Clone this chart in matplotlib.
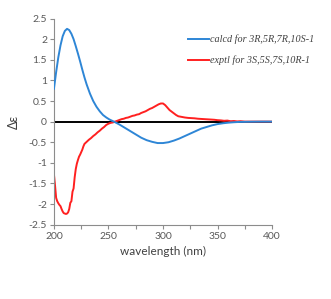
import numpy as np
import matplotlib.pyplot as plt
from matplotlib.ticker import MultipleLocator

plt.rcParams["font.family"] = ["Lato", "DejaVu Sans"]

# calculated ECD (blue)
calc_wl = [200, 202, 204, 206, 208, 210, 212, 214, 216, 218, 220, 222, 224, 226, 228, 230,
           233, 236, 239, 242, 245, 248, 251, 255, 260, 265, 270, 275, 280, 285, 290, 295,
           300, 305, 310, 315, 320, 325, 330, 335, 340, 345, 350, 355, 360, 365, 370, 380, 390, 400]
calc_de = [0.80, 1.20, 1.56, 1.85, 2.07, 2.20, 2.25, 2.22, 2.13, 2.00, 1.83, 1.65, 1.46, 1.26, 1.07, 0.90,
           0.68, 0.50, 0.36, 0.25, 0.16, 0.10, 0.05, 0.00, -0.07, -0.15, -0.23, -0.31, -0.39, -0.45, -0.49, -0.52,
           -0.52, -0.50, -0.46, -0.41, -0.35, -0.29, -0.23, -0.17, -0.13, -0.09, -0.06, -0.04, -0.025, -0.015, -0.008, -0.003, 0.0, 0.0]

# experimental ECD (red)
expt_wl = [200, 201, 202, 203, 204, 205, 206, 207, 208, 209, 210, 211, 212, 213, 214, 215, 216, 217, 218,
           219, 220, 221, 222, 223, 224, 225, 226, 227, 228, 230, 232, 234, 236, 238, 240, 242, 244, 246,
           248, 250, 252, 254, 256, 258, 260, 262, 264, 266, 268, 270, 272, 274, 276, 278, 280, 282, 284,
           286, 288, 290, 292, 294, 296, 298, 300, 302, 304, 306, 308, 310, 312, 314, 316, 318, 320, 323,
           326, 329, 332, 335, 338, 341, 344, 347, 350, 353, 356, 359, 362, 365, 368, 371, 375, 380, 390, 400]
expt_de = [-1.28, -1.55, -1.85, -1.93, -1.98, -2.02, -2.05, -2.12, -2.18, -2.22, -2.23, -2.24, -2.23, -2.20, -2.12, -1.97, -1.93, -1.70, -1.62,
           -1.35, -1.15, -1.02, -0.93, -0.85, -0.80, -0.74, -0.68, -0.60, -0.54, -0.49, -0.44, -0.40, -0.35, -0.31, -0.26, -0.22, -0.17, -0.13,
           -0.08, -0.05, -0.03, -0.02, 0.00, 0.02, 0.04, 0.06, 0.07, 0.09, 0.10, 0.12, 0.14, 0.15, 0.17, 0.18, 0.21, 0.23, 0.25,
           0.28, 0.31, 0.33, 0.36, 0.39, 0.42, 0.44, 0.44, 0.40, 0.34, 0.28, 0.24, 0.20, 0.16, 0.13, 0.12, 0.11, 0.10, 0.09,
           0.085, 0.08, 0.07, 0.065, 0.06, 0.055, 0.05, 0.045, 0.035, 0.03, 0.02, 0.025, 0.01, 0.015, 0.005, 0.01, 0.0, 0.0, 0.0, 0.0]

fig = plt.figure(figsize=(3.31, 2.99), dpi=100)
ax = fig.add_axes([0.163, 0.2485, 0.659, 0.6895])

ax.axhline(0, color="black", lw=1.4, zorder=1)
ax.plot(calc_wl, calc_de, color="#2e86d6", lw=1.4, label="calcd for 3R,5R,7R,10S-1", zorder=3)
ax.plot(expt_wl, expt_de, color="#ff2020", lw=1.4, label="exptl for 3S,5S,7S,10R-1", zorder=2)

ax.set_xlim(200, 400)
ax.set_ylim(-2.5, 2.5)
ax.xaxis.set_major_locator(MultipleLocator(50))
ax.xaxis.set_minor_locator(MultipleLocator(25))
ax.set_yticks(np.arange(-2.5, 2.51, 0.5))
ax.set_yticklabels(["-2.5", "-2", "-1.5", "-1", "-0.5", "0", "0.5", "1", "1.5", "2", "2.5"])

for s in ["top", "right"]:
    ax.spines[s].set_visible(False)
for s in ["left", "bottom"]:
    ax.spines[s].set_color("#8c8c8c")
    ax.spines[s].set_linewidth(0.8)

ax.tick_params(which="both", direction="out", color="#8c8c8c", labelcolor="#595959",
               labelsize=7.5, length=3, width=0.8, pad=2)

ax.set_xlabel("wavelength (nm)", fontsize=8.5, color="#404040", labelpad=4)
ax.set_ylabel("Δε", fontsize=9, color="#404040", labelpad=6)

leg = ax.legend(loc="upper left", bbox_to_anchor=(0.568, 0.885), bbox_transform=fig.transFigure,
                frameon=False, borderpad=0, borderaxespad=0, handlelength=2.1,
                handletextpad=0.1, labelspacing=1.15,
                prop={"family": "Liberation Serif", "style": "italic", "size": 7.3})
for t in leg.get_texts():
    t.set_color("#404040")

fig.savefig("out.png", dpi=100)
